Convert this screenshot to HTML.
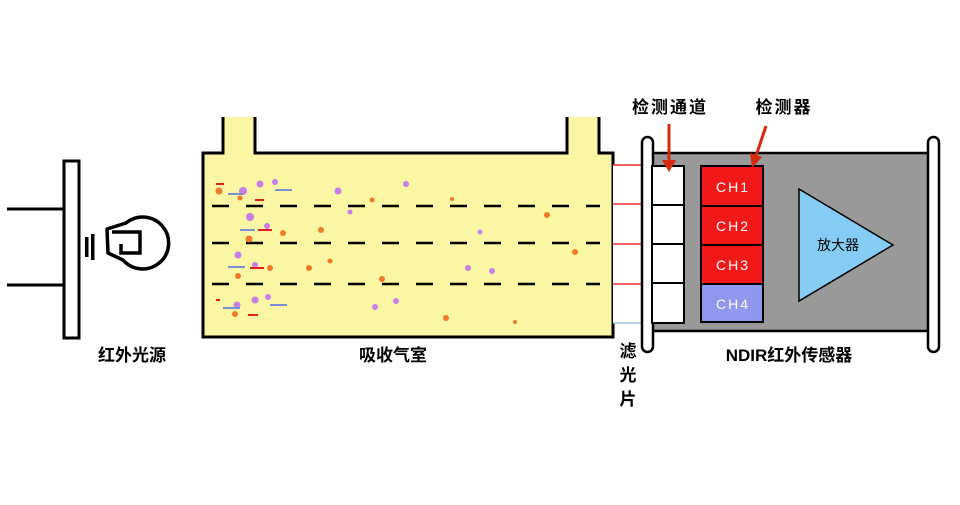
<!DOCTYPE html>
<html><head><meta charset="utf-8"><style>
body{margin:0;background:#fff;}
text{font-family:"Liberation Sans","Noto Sans CJK SC",sans-serif;}
</style></head><body>
<svg width="960" height="500" viewBox="0 0 960 500" xmlns="http://www.w3.org/2000/svg">
<!-- lamp -->
<line x1="7" y1="209" x2="63" y2="209" stroke="#000" stroke-width="3"/>
<line x1="7" y1="285" x2="63" y2="285" stroke="#000" stroke-width="3"/>
<rect x="64" y="161" width="15" height="177" fill="#fff" stroke="#000" stroke-width="3"/>
<rect x="85" y="237" width="3.5" height="20" fill="#000"/>
<rect x="91" y="234" width="3.5" height="26" fill="#000"/>
<path d="M126 223 A26 26 0 1 1 123 260 L108 253 L107 229 Z" fill="none" stroke="#000" stroke-width="3.5" stroke-linejoin="round"/>
<path d="M112 232 L140 232 L140 253 L121 253 L121 244" fill="none" stroke="#000" stroke-width="3.5"/>
<text x="132" y="361" font-size="17" text-anchor="middle" font-weight="bold">红外光源</text>
<!-- chamber -->
<path d="M203 153 L223 153 L223 117 L255 117 L255 153 L567 153 L567 117 L599 117 L599 153 L613 153 L613 337 L203 337 Z" fill="#fbf6a4"/>
<path d="M223 117 L223 153 L203 153 L203 337 L613 337 L613 153 L599 153 L599 117 M567 117 L567 153 L255 153 L255 117" fill="none" stroke="#000" stroke-width="3"/>
<g stroke="#000" stroke-width="2.5" stroke-dasharray="17 17">
<line x1="212" y1="206" x2="600" y2="206"/>
<line x1="212" y1="243" x2="600" y2="243"/>
<line x1="212" y1="284" x2="600" y2="284"/>
</g>
<g fill="#c77ee8">
<circle cx="243" cy="191" r="4"/><circle cx="260" cy="184" r="3.5"/><circle cx="275" cy="182" r="3"/>
<circle cx="250" cy="217" r="4"/><circle cx="267" cy="226" r="3"/><circle cx="238" cy="255" r="3.5"/>
<circle cx="255" cy="265" r="3"/><circle cx="255" cy="300" r="3.5"/><circle cx="237" cy="305" r="3.5"/>
<circle cx="268" cy="297" r="3"/><circle cx="338" cy="191" r="3.5"/><circle cx="406" cy="184" r="3"/>
<circle cx="468" cy="268" r="3"/><circle cx="492" cy="271" r="3"/><circle cx="396" cy="301" r="3"/>
<circle cx="480" cy="232" r="2.5"/><circle cx="350" cy="212" r="2.5"/><circle cx="375" cy="307" r="3"/>
</g>
<g fill="#f07a28">
<circle cx="219" cy="191" r="3.5"/><circle cx="240" cy="198" r="2.5"/><circle cx="249" cy="239" r="3.5"/>
<circle cx="283" cy="233" r="3"/><circle cx="270" cy="268" r="3"/><circle cx="238" cy="276" r="3"/>
<circle cx="235" cy="314" r="3"/><circle cx="321" cy="230" r="3"/><circle cx="309" cy="268" r="3"/>
<circle cx="547" cy="215" r="3"/><circle cx="575" cy="252" r="3"/><circle cx="446" cy="318" r="3"/>
<circle cx="382" cy="279" r="3"/><circle cx="372" cy="200" r="2.5"/><circle cx="515" cy="322" r="2"/>
<circle cx="330" cy="261" r="2.5"/><circle cx="452" cy="199" r="2"/>
</g>
<g stroke="#7a8fd6" stroke-width="2">
<line x1="228" y1="194" x2="243" y2="194"/><line x1="275" y1="190" x2="292" y2="190"/>
<line x1="240" y1="230" x2="255" y2="230"/><line x1="228" y1="267" x2="245" y2="267"/>
<line x1="223" y1="308" x2="240" y2="308"/><line x1="270" y1="305" x2="287" y2="305"/>
</g>
<g stroke="#e02020" stroke-width="2">
<line x1="216" y1="184" x2="224" y2="184"/><line x1="255" y1="200" x2="264" y2="200"/>
<line x1="258" y1="230" x2="272" y2="230"/><line x1="250" y1="268" x2="264" y2="268"/>
<line x1="248" y1="315" x2="258" y2="315"/><line x1="216" y1="300" x2="220" y2="300"/>
</g>
<!-- filter -->
<rect x="613" y="165" width="30" height="158" fill="#fff"/>
<g stroke="#e83030" stroke-width="1.5" fill="none">
<line x1="613" y1="165" x2="643" y2="165"/><line x1="613" y1="204" x2="643" y2="204"/>
<line x1="613" y1="244" x2="643" y2="244"/><line x1="613" y1="284" x2="643" y2="284"/>
</g>
<line x1="613" y1="323" x2="643" y2="323" stroke="#9bc0e0" stroke-width="1.5"/>
<!-- sensor -->
<rect x="650" y="153" width="282" height="178" fill="#999" stroke="#000" stroke-width="2.5"/>
<rect x="642" y="137" width="11" height="215" rx="5.5" fill="#fff" stroke="#000" stroke-width="2.5"/>
<rect x="928" y="137" width="11" height="215" rx="5.5" fill="#fff" stroke="#000" stroke-width="2.5"/>
<g fill="#fff" stroke="#000" stroke-width="2">
<rect x="652" y="166" width="32" height="39"/><rect x="652" y="205" width="32" height="39"/>
<rect x="652" y="244" width="32" height="39"/><rect x="652" y="283" width="32" height="40"/>
</g>
<g stroke="#000" stroke-width="2">
<rect x="701" y="166" width="62" height="40" fill="#f01818"/>
<rect x="701" y="206" width="62" height="39" fill="#f01818"/>
<rect x="701" y="245" width="62" height="39" fill="#f01818"/>
<rect x="701" y="284" width="62" height="38" fill="#9097ee"/>
</g>
<g fill="#fff" font-size="14" text-anchor="middle" letter-spacing="2">
<text x="733" y="192">CH1</text><text x="733" y="231">CH2</text>
<text x="733" y="270">CH3</text><text x="733" y="309">CH4</text>
</g>
<polygon points="799,189 893,245 799,301" fill="#86cdf5" stroke="#000" stroke-width="1.5"/>
<text x="838" y="250" font-size="14" text-anchor="middle">放大器</text>
<!-- arrows -->
<line x1="669" y1="124" x2="669" y2="160" stroke="#d42a10" stroke-width="3"/>
<polygon points="662,160 676,160 669,172" fill="#d42a10"/>
<line x1="766" y1="126" x2="756" y2="156" stroke="#d42a10" stroke-width="3"/>
<polygon points="750,153 762,157 752,168" fill="#d42a10"/>
<g font-weight="bold">
<text x="670" y="113" font-size="17" text-anchor="middle" letter-spacing="2">检测通道</text>
<text x="784" y="113" font-size="17" text-anchor="middle" letter-spacing="2">检测器</text>
<text x="393" y="361" font-size="17" text-anchor="middle">吸收气室</text>
<text x="789" y="361" font-size="17" text-anchor="middle">NDIR红外传感器</text>
<text x="628" y="357" font-size="17" text-anchor="middle">滤</text>
<text x="628" y="381" font-size="17" text-anchor="middle">光</text>
<text x="628" y="405" font-size="17" text-anchor="middle">片</text>
</g>
</svg>
</body></html>
